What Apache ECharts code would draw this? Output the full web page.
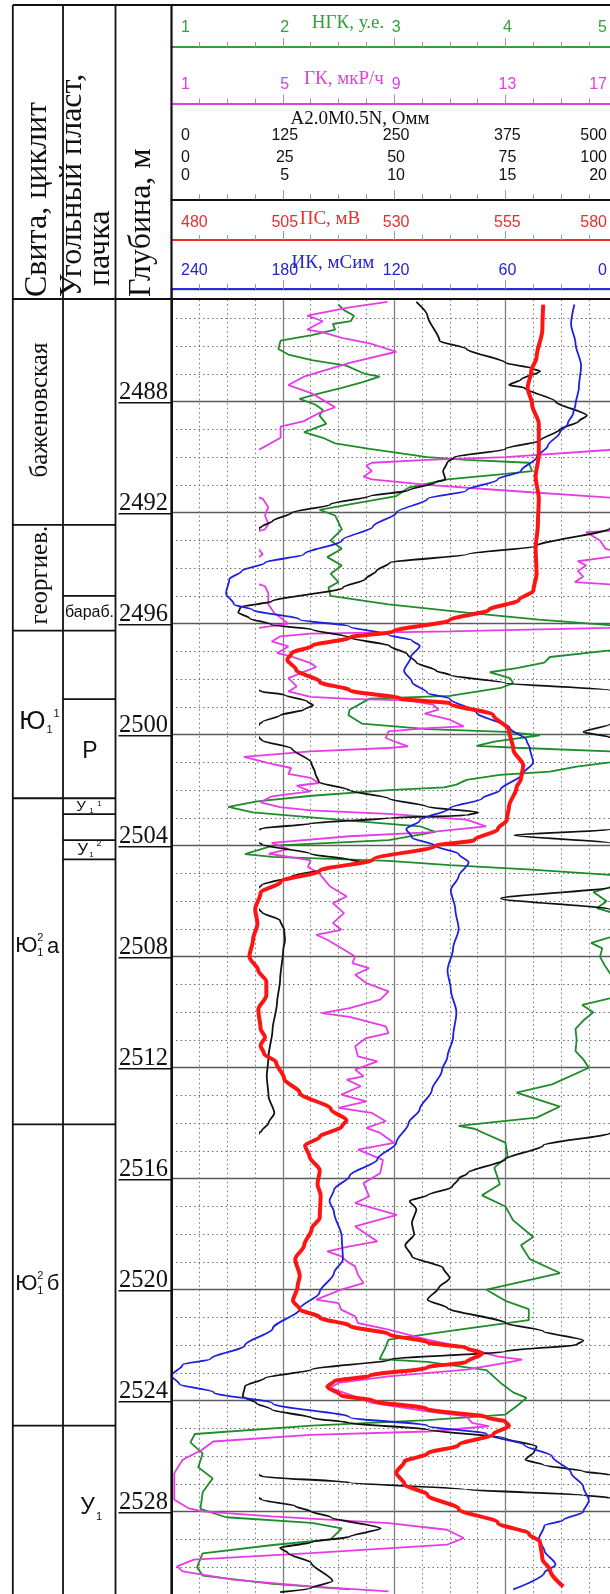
<!DOCTYPE html>
<html>
<head>
<meta charset="utf-8">
<script src="https://cdn.jsdelivr.net/npm/echarts@6/dist/echarts.min.js"></script>
<style>
  html, body { margin: 0; padding: 0; background: #fff; }
  #chart { width: 610px; height: 1594px; }
</style>
</head>
<body>
<div id="chart"></div>
<script>
// ---------- well log curves (depth in metres, values in curve units) ----------

// НГК, у.е.
const ngkDepth = [
  2484.5,2484.7,2484.9,2485.1,2485.2,2485.4,2485.6,2485.8,2486.1,2486.3,
  2486.5,2486.7,2487.0,2487.1,2487.3,2487.5,2487.7,2487.9,2488.1,2488.3,
  2488.5,2488.8,2489.0,2489.1,2489.3,2489.5,2489.7,2490.0,2490.1,2490.2,
  2490.5,2490.6,2490.8,2491.1,2491.4,2491.7,2491.9,2492.1,2492.6,2493.0,
  2493.3,2493.6,2493.9,2494.2,2494.5,2494.7,2495.0,2495.3,2495.6,2495.85,
  2496.05,2496.5,2496.96,2497.2,2497.4,2497.6,2497.75,2497.85,2497.96,2498.14,
  2498.3,2498.6,2498.7,2499.1,2499.3,2499.6,2499.8,2499.9,2500.02,2500.25,
  2500.4,2500.47,2500.6,2500.8,2501.0,2501.15,2501.33,2501.45,2501.63,2501.8,
  2501.9,2502.0,2502.2,2502.4,2502.6,2502.8,2503.1,2503.3,2503.5,2503.8,
  2504.0,2504.3,2504.4,2504.55,2504.7,2504.85,2505.05,2505.3,2505.5,2505.67,
  2506.0,2506.25,2506.4,2506.9,2507.3,2507.5,2507.7,2508.0,2508.3,2508.6,
  2509.0,2509.5,2509.74,2510.0,2510.3,2510.6,2511.0,2511.4,2511.7,2512.0,
  2512.6,2512.9,2513.4,2513.8,2514.1,2514.2,2514.7,2515.2,2515.6,2516.2,
  2516.6,2517.0,2517.5,2518.1,2518.4,2518.9,2519.4,2520.0,2520.4,2520.7,
  2521.1,2521.4,2521.8,2522.1,2522.5,2522.6,2522.9,2523.4,2523.7,2523.9,
  2524.2,2524.5,2524.7,2524.9,2525.2,2525.5,2525.9,2526.4,2526.8,2527.3,
  2527.9,2528.2,2528.4,2528.6,2529.0,2529.2,2529.5,2530.0,2530.3,2530.6,
  2530.8
];
const ngkValue = [
  2.50,2.55,2.64,2.61,2.45,2.47,2.26,1.98,1.96,2.05,
  2.26,2.57,2.74,2.87,2.71,2.53,2.33,2.15,2.29,2.36,
  2.33,2.39,2.26,2.19,2.36,2.47,2.78,3.30,3.65,4.21,
  4.24,4.00,3.48,3.13,3.02,2.60,2.33,2.47,2.53,2.43,
  2.53,2.40,2.53,2.43,2.50,2.41,2.43,2.95,3.65,4.30,
  4.94,5.30,4.94,4.40,4.35,4.10,3.86,3.95,4.04,4.07,
  3.97,3.50,2.78,2.60,2.59,2.71,3.30,4.00,4.31,3.90,
  3.74,4.10,4.94,5.30,4.94,4.64,4.40,3.95,3.65,3.56,
  3.45,2.95,2.26,1.77,1.51,1.73,2.60,3.23,3.37,2.95,
  1.91,1.66,1.91,2.95,3.50,4.20,4.94,5.30,4.94,4.79,
  4.91,4.82,4.95,5.30,4.94,4.77,4.87,4.85,4.89,4.94,
  5.20,4.94,4.69,4.79,4.70,4.63,4.64,4.63,4.70,4.75,
  4.42,4.10,4.49,4.28,3.58,3.72,4.00,4.02,3.90,3.95,
  3.79,4.00,4.07,4.25,4.14,4.22,4.49,3.83,4.00,4.21,
  4.21,3.65,2.95,2.92,2.87,3.30,3.83,3.97,4.07,4.19,
  4.10,4.00,3.30,2.26,1.21,1.17,1.28,1.24,1.37,1.28,
  1.26,1.49,2.26,2.53,2.43,1.91,1.28,1.23,1.28,1.91,
  2.60
];

// ГК, мкР/ч (values above 17 continue on the 17–81 overflow scale)
const gkDepth = [
  2484.4,2484.6,2484.9,2485.1,2485.4,2485.5,2485.7,2485.9,2486.2,2486.6,
  2487.1,2487.4,2487.7,2488.2,2488.4,2488.7,2488.9,2489.3,2489.7,2489.74,
  2490.0,2490.1,2490.2,2490.3,2490.5,2490.7,2490.8,2491.0,2491.2,2491.5,
  2491.8,2492.1,2492.4,2492.6,2492.7,2493.0,2493.3,2493.5,2493.75,2493.9,
  2494.1,2494.3,2494.5,2494.65,2494.9,2495.3,2495.6,2496.0,2496.15,2496.28,
  2496.36,2496.46,2496.64,2496.82,2497.06,2497.18,2497.42,2497.56,2497.72,2497.96,
  2498.26,2498.44,2498.64,2498.71,2498.76,2498.92,2499.10,2499.24,2499.46,2499.70,
  2499.76,2499.88,2500.12,2500.28,2500.42,2500.48,2500.60,2500.80,2501.05,2501.20,
  2501.41,2501.56,2501.74,2501.84,2502.04,2502.22,2502.44,2502.61,2502.73,2502.85,
  2503.06,2503.30,2503.52,2503.66,2503.90,2504.12,2504.29,2504.53,2504.77,2504.99,
  2505.47,2505.83,2506.07,2506.43,2506.79,2507.03,2507.21,2507.39,2507.69,2507.99,
  2508.23,2508.41,2508.65,2508.95,2509.25,2509.55,2509.85,2510.03,2510.17,2510.51,
  2510.75,2510.93,2511.23,2511.59,2511.77,2512.07,2512.31,2512.43,2512.67,2512.97,
  2513.21,2513.45,2513.63,2513.93,2514.17,2514.35,2514.71,2514.95,2515.32,2515.80,
  2516.16,2516.64,2516.88,2517.30,2517.72,2518.26,2518.44,2518.62,2518.80,2518.98,
  2519.16,2519.46,2519.76,2520.00,2520.36,2520.48,2520.72,2520.96,2521.20,2521.44,
  2521.80,2522.10,2522.40,2522.52,2522.64,2522.88,2523.12,2523.36,2523.54,2523.78,
  2524.08,2524.38,2524.56,2524.80,2524.92,2525.11,2525.23,2525.47,2525.77,2526.13,
  2526.61,2527.09,2527.57,2527.87,2527.99,2528.17,2528.41,2528.65,2528.95,2529.19,
  2529.49,2529.73,2529.97,2530.15,2530.45,2530.69,2530.87
];
const gkValue = [
  39.8,33.0,25.4,28.2,25.4,28.2,31.6,36.6,41.4,33.0,
  24.8,22.0,26.2,30.4,27.6,24.8,20.6,20.6,17.0,16.7,
  13.0,10.2,8.2,8.0,8.2,7.9,8.2,10.2,13.0,17.4,
  18.4,17.8,18.4,17.8,15.9,16.4,16.6,17.4,15.6,15.9,
  15.6,15.8,15.5,17.8,18.4,18.4,19.4,22.0,16.7,11.0,
  6.0,4.9,4.6,5.2,4.8,5.3,6.0,6.2,5.8,5.2,
  5.5,5.2,6.0,7.4,9.5,10.4,10.6,10.1,11.0,11.5,
  10.2,8.8,8.7,9.1,9.5,8.8,6.0,3.6,4.6,5.3,
  5.2,6.0,6.3,5.5,6.0,4.6,4.2,4.9,6.0,8.8,
  11.6,12.3,10.2,7.4,4.6,5.2,4.5,6.0,5.9,6.3,
  6.7,7.3,6.8,7.2,6.8,7.1,6.2,6.6,7.1,7.6,
  7.5,8.1,7.6,8.0,8.8,8.5,7.4,6.4,7.4,8.7,
  8.8,8.0,7.6,7.7,8.4,7.6,7.9,7.3,7.8,7.1,
  8.0,7.0,8.2,8.7,8.0,8.5,9.0,7.7,8.6,8.5,
  7.9,8.1,7.6,9.1,7.6,8.4,7.4,6.6,7.1,7.3,
  7.6,7.7,7.9,7.1,6.2,7.0,7.1,7.6,7.7,8.8,
  10.2,11.6,12.7,13.6,13.0,11.6,8.8,7.0,6.7,7.4,
  8.2,10.2,11.6,11.8,12.4,10.2,6.0,2.5,2.1,1.4,
  1.1,1.1,1.1,1.6,2.1,4.6,8.8,10.9,11.5,10.9,
  6.0,1.8,1.2,1.4,3.2,6.0,8.8
];

// A2.0M0.5N, Омм (0–20 main scale, overflow to 20–100 and 100–500)
const resDepth = [
  2484.4,2484.9,2485.8,2486.1,2486.6,2486.8,2486.9,2487.2,2487.4,2487.5,
  2488.0,2488.5,2488.7,2489.0,2489.4,2489.7,2490.0,2490.2,2490.5,2490.8,
  2490.9,2491.2,2491.4,2491.7,2492.0,2492.3,2492.5,2492.56,2493.2,2493.5,
  2493.8,2494.1,2494.4,2494.7,2495.2,2495.4,2495.6,2495.8,2496.04,2496.2,
  2496.5,2496.8,2497.1,2497.4,2497.7,2497.85,2498.14,2498.4,2498.45,2498.56,
  2498.8,2498.94,2499.1,2499.3,2499.55,2499.62,2499.9,2500.1,2500.2,2500.5,
  2501.0,2501.4,2501.7,2502.0,2502.3,2502.6,2502.8,2502.9,2503.0,2503.2,
  2503.38,2503.42,2503.62,2503.9,2503.95,2504.3,2504.5,2504.6,2504.8,2505.1,
  2505.42,2505.5,2505.9,2506.3,2506.4,2506.7,2507.03,2507.4,2507.75,2508.83,
  2509.67,2510.63,2511.59,2512.31,2513.03,2513.63,2513.99,2514.29,2514.35,2514.8,
  2515.3,2515.8,2516.0,2516.3,2516.6,2516.8,2517.1,2517.6,2518.0,2518.4,
  2518.8,2519.22,2519.58,2519.94,2520.36,2520.66,2521.2,2521.5,2521.83,2521.98,
  2522.22,2522.52,2522.88,2523.18,2523.48,2523.84,2524.08,2524.32,2524.62,2524.8,
  2525.04,2525.35,2525.65,2525.83,2526.13,2526.31,2526.55,2526.67,2526.73,2526.95,
  2527.2,2527.4,2527.5,2527.56,2527.8,2528.0,2528.2,2528.6,2528.9,2529.1,
  2529.3,2529.5,2529.85,2530.5,2530.75,2530.9
];
const resValue = [
  55.0,57.5,60.2,66.3,75.0,81.0,82.8,78.5,75.8,79.3,
  86.3,93.3,91.5,87.2,82.8,75.0,63.5,61.9,61.0,61.5,
  59.3,53.2,44.5,35.7,27.0,22.7,20.3,19.7,16.4,13.3,
  9.8,9.2,8.7,7.7,4.5,3.1,3.0,3.5,4.5,6.3,
  8.0,9.8,10.6,11.0,11.9,12.5,15.0,19.7,20.3,25.3,
  30.5,31.8,29.7,24.4,20.3,19.7,18.5,19.7,20.3,27.0,
  31.4,32.3,33.1,40.0,48.8,57.5,68.9,66.3,48.8,31.4,
  20.3,19.7,15.4,19.7,20.3,31.4,40.0,42.8,35.7,27.0,
  20.3,19.7,14.8,19.7,20.3,24.4,25.3,25.5,25.1,24.4,
  23.7,22.7,21.8,21.4,21.8,23.1,21.8,20.2,19.7,16.7,
  15.0,13.3,12.9,12.6,11.5,10.7,11.0,10.8,10.9,10.5,
  10.8,12.2,12.5,12.0,11.5,12.4,15.0,16.7,18.5,18.2,
  15.0,9.8,6.3,4.2,3.3,3.2,3.8,4.5,6.3,8.0,
  11.5,15.0,16.4,16.3,15.9,16.7,18.5,19.7,20.3,40.0,
  66.3,92.5,98.3,101.0,139.0,157.0,179.0,235.0,200.0,157.0,
  122.0,131.0,157.0,181.0,157.0,122.0
];

// ПС, мВ
const psDepth = [
  2484.5,2485.4,2486.4,2486.9,2487.5,2488.1,2488.8,2489.9,2490.7,2491.5,
  2492.4,2493.3,2494.2,2494.8,2495.15,2495.5,2495.87,2496.28,2496.5,2496.8,
  2497.06,2497.3,2497.66,2498.1,2498.4,2498.7,2498.87,2499.3,2499.83,2500.55,
  2501.1,2501.6,2501.9,2502.6,2503.07,2503.4,2503.8,2504.0,2504.5,2504.9,
  2505.3,2505.7,2506.3,2506.8,2507.4,2508.0,2508.5,2508.9,2509.4,2509.9,
  2510.6,2510.9,2511.2,2511.5,2511.8,2512.4,2512.9,2513.5,2513.9,2514.1,
  2514.5,2514.8,2515.2,2515.7,2516.2,2516.6,2517.4,2517.8,2518.4,2518.9,
  2519.5,2519.9,2520.4,2520.7,2521.0,2521.3,2521.6,2521.9,2522.1,2522.3,
  2522.6,2522.8,2523.1,2523.3,2523.5,2523.8,2524.0,2524.3,2524.6,2524.75,
  2524.9,2525.2,2525.6,2525.9,2526.2,2526.6,2527.0,2527.4,2527.9,2528.4,
  2528.8,2529.1,2529.7,2530.1,2530.7
];
const psValue = [
  563.5,563.3,562.0,560.8,560.0,561.0,562.5,562.5,561.8,562.5,
  562.3,561.8,562.0,561.3,558.0,551.3,542.5,529.8,520.0,511.5,
  507.0,506.0,508.0,513.3,520.0,531.5,542.5,552.3,555.8,556.8,
  559.0,558.5,557.5,555.8,555.3,553.3,548.0,539.3,525.3,513.3,
  504.5,500.0,498.8,499.3,498.3,497.5,499.5,501.3,501.3,499.5,
  500.0,501.0,500.0,500.8,503.5,505.3,508.8,515.8,519.3,518.3,
  513.3,510.0,511.0,513.3,512.8,513.5,513.3,511.5,509.8,507.8,
  508.8,508.3,507.3,508.8,513.3,520.0,528.8,537.5,546.3,549.8,
  546.3,537.5,524.5,516.5,515.0,518.0,525.3,537.5,550.8,555.0,
  555.8,552.3,544.5,537.5,532.3,530.5,532.3,537.5,544.5,553.3,
  560.3,562.8,563.3,565.0,568.0
];

// ИК, мСим
const ikDepth = [
  2484.5,2485.2,2485.9,2486.7,2487.5,2488.1,2488.4,2488.8,2489.1,2489.6,
  2490.0,2490.5,2490.8,2491.2,2491.5,2492.0,2492.5,2493.0,2493.5,2493.8,
  2494.1,2494.4,2494.9,2495.3,2495.5,2495.85,2496.1,2496.4,2496.6,2496.8,
  2497.2,2497.7,2498.1,2498.5,2498.7,2499.2,2499.76,2500.2,2500.5,2501.0,
  2501.4,2502.0,2502.3,2502.65,2503.1,2503.4,2503.7,2504.0,2504.3,2504.6,
  2505.1,2505.6,2506.3,2507.0,2507.7,2508.5,2509.2,2510.0,2510.9,2511.6,
  2512.1,2512.8,2513.5,2514.0,2514.7,2515.3,2515.9,2516.4,2516.8,2517.2,
  2518.1,2518.9,2519.4,2520.1,2520.7,2521.4,2522.0,2522.5,2522.7,2523.1,
  2523.4,2523.7,2524.1,2524.6,2524.9,2525.2,2525.6,2526.0,2526.6,2527.1,
  2527.6,2528.0,2528.3,2528.5,2529.0,2529.4,2529.9,2530.2,2530.8
];
const ikValue = [
  22.8,24.6,22.2,19.2,20.4,22.2,23.4,26.4,30.6,37.2,
  43.2,51.6,64.2,81.0,102.0,118.8,131.4,148.2,168.6,189.6,
  202.2,208.8,210.6,206.4,196.2,171.0,144.0,123.0,110.4,106.2,
  111.0,114.6,110.4,102.0,90.0,75.6,57.6,48.6,46.8,45.0,
  50.4,63.0,72.6,90.0,106.2,113.4,110.4,97.8,85.2,79.8,
  85.2,89.4,87.0,85.2,88.2,91.2,89.4,86.4,88.2,91.2,
  94.2,99.6,106.2,112.2,118.8,129.0,144.0,152.4,154.8,152.4,
  148.2,147.6,152.4,160.2,171.0,185.4,200.4,219.0,234.0,240.0,
  235.8,217.2,185.4,144.0,102.0,70.2,49.8,34.8,24.6,18.0,
  15.0,18.0,28.8,39.0,42.0,39.0,33.0,39.0,55.8
];

// ---------- header scale labels ----------
const ngkTicks = [1, 2, 3, 4, 5];
const gkTicks = [1, 5, 9, 13, 17];
const resTicks500 = [0, 125, 250, 375, 500];
const resTicks100 = [0, 25, 50, 75, 100];
const resTicks20 = [0, 5, 10, 15, 20];
const psTicks = [480, 505, 530, 555, 580];
const ikTicks = [240, 180, 120, 60, 0];
const depthLabels = [2488, 2492, 2496, 2500, 2504, 2508, 2512, 2516, 2520, 2524, 2528];

// ---------- stratigraphy columns (depth intervals) ----------
const suiteBounds = [2492.44, 2496.25, 2502.29, 2514.04, 2524.90];
const packBounds = [2495.0, 2498.72, 2502.86, 2503.80, 2504.49];

// ---------- layout ----------
const PLOT_LEFT = 171.5;
const DIV = 111.3;                 // one scale division, px
const PX_PER_M = 27.75;
const DEPTH_MIN = 2484, DEPTH_MAX = 2532;
const GRID_TOP = 401.7 - (2488 - DEPTH_MIN) * PX_PER_M;
const GRID_H = (DEPTH_MAX - DEPTH_MIN) * PX_PER_M;
const GRID_W = 4 * DIV;
const WRAP_LEFT = PLOT_LEFT + 0.8 * DIV;   // overflow scales start at 0.8 division

const C = {
  ngk: '#1f8c2b', ngkText: '#35a040',
  gk: '#e63ce6', gkText: '#e040e0',
  res: '#111111',
  ps: '#ff1414', psText: '#e23030',
  ik: '#1f1fe0', ikText: '#2424d0'
};
const SANS = '"Liberation Sans", Arial, sans-serif';
const SERIF = '"Liberation Serif", "Times New Roman", serif';

function headerAxis(min, max, interval, color, lineY, inverse) {
  return {
    type: 'value', gridIndex: 0, min, max, interval, inverse: !!inverse,
    position: 'top', offset: GRID_TOP - lineY,
    axisLine: { show: true, onZero: false, lineStyle: { color, width: 2 } },
    axisTick: { show: true, inside: false, length: 9, lineStyle: { color: '#9a9a9a', width: 1 } },
    minorTick: { show: true, splitNumber: 4, length: 5, lineStyle: { color: '#9a9a9a', width: 1 } },
    axisLabel: { show: false },
    splitLine: { show: false }
  };
}
function hiddenAxis(min, max) {
  return { type: 'value', gridIndex: 1, min, max, show: false, splitLine: { show: false } };
}
function pairs(depth, vals) { return depth.map((d, i) => [vals[i], d]); }
function curve(name, xi, yi, data, color, width, smooth) {
  return {
    type: 'line', name, xAxisIndex: xi, yAxisIndex: yi, data,
    symbol: 'none', clip: true, silent: true, smooth: smooth || false,
    smoothMonotone: smooth ? 'y' : undefined,
    lineStyle: { color, width }, z: 3
  };
}

const ngkAxis = headerAxis(1, 5, 1, '#3a9d3f', 47);
ngkAxis.splitLine = { show: true, lineStyle: { color: '#7d7d7d', width: 1.3 } };
ngkAxis.minorSplitLine = { show: true, lineStyle: { color: '#7a7a7a', width: 1, type: [1.5, 3] } };

const option = {
  animation: false,
  backgroundColor: '#ffffff',
  grid: [
    { left: PLOT_LEFT, top: GRID_TOP, width: GRID_W, height: GRID_H, containLabel: false, outerBoundsMode: 'none' },
    { left: WRAP_LEFT, top: GRID_TOP, width: GRID_W - 0.8 * DIV, height: GRID_H, containLabel: false, outerBoundsMode: 'none' }
  ],
  xAxis: [
    ngkAxis,                                             // 0 НГК
    headerAxis(1, 17, 4, '#e040e0', 103.5),              // 1 ГК
    headerAxis(0, 20, 5, '#111', 199.3),                 // 2 A2.0M0.5N (0–20)
    headerAxis(480, 580, 25, '#e83030', 240),            // 3 ПС
    headerAxis(0, 240, 60, '#2a2ae0', 289, true),        // 4 ИК
    hiddenAxis(17, 81),                                  // 5 ГК overflow
    hiddenAxis(20, 100),                                 // 6 A2.0M0.5N 20–100
    hiddenAxis(100, 500)                                 // 7 A2.0M0.5N 100–500
  ],
  yAxis: [
    {
      type: 'value', gridIndex: 0, min: DEPTH_MIN, max: DEPTH_MAX, interval: 4, inverse: true,
      axisLine: { show: true, onZero: false, lineStyle: { color: '#111', width: 2 } },
      axisTick: { show: false }, axisLabel: { show: false },
      minorTick: { show: false, splitNumber: 4 },
      splitLine: { show: true, lineStyle: { color: '#5a5a5a', width: 1.4 } },
      minorSplitLine: { show: true, lineStyle: { color: '#6e6e6e', width: 1, type: [1.5, 3] } }
    },
    { type: 'value', gridIndex: 1, min: DEPTH_MIN, max: DEPTH_MAX, inverse: true, show: false, splitLine: { show: false } }
  ],
  series: [
    curve('НГК', 0, 0, pairs(ngkDepth, ngkValue), C.ngk, 1.8),
    curve('ГК', 1, 0, pairs(gkDepth, gkValue), C.gk, 1.8),
    curve('ГК ×5', 5, 1, pairs(gkDepth, gkValue), C.gk, 1.8),
    curve('A2.0M0.5N', 2, 0, pairs(resDepth, resValue), C.res, 1.8, 0.25),
    curve('A2.0M0.5N ×5', 6, 1, pairs(resDepth, resValue), C.res, 1.8, 0.25),
    curve('A2.0M0.5N ×25', 7, 1, pairs(resDepth, resValue), C.res, 1.8, 0.25),
    curve('ИК', 4, 0, pairs(ikDepth, ikValue), C.ik, 1.8, 0.3),
    curve('ПС', 3, 0, pairs(psDepth, psValue), C.ps, 4, 0.3)
  ]
};

const chart = echarts.init(document.getElementById('chart'), null, { renderer: 'canvas' });
chart.setOption(option);

// ---------- annotations: header labels, table, column texts ----------
const xPx = (axis, v) => chart.convertToPixel({ xAxisIndex: axis }, v);
const yPx = d => chart.convertToPixel({ yAxisIndex: 0 }, d);

function text(x, y, s, font, fill, align, rot, valign) {
  return {
    type: 'text', x, y, rotation: rot || 0, z: 120, silent: true,
    style: {
      text: s, font, fill,
      align: align || 'center', verticalAlign: valign || 'middle',
      textAlign: align || 'center', textVerticalAlign: valign || 'middle'
    }
  };
}
function line(x1, y1, x2, y2, w, color) {
  return { type: 'line', z: 110, silent: true, shape: { x1, y1, x2, y2 }, style: { stroke: color || '#111', lineWidth: w || 1.8 } };
}

const els = [];
const RIGHT = 610;
const BOTTOM = 1594;
const COLS = [12.8, 63, 115.5];
const HEAD_TOP = 5, HEAD_BOTTOM = 299;

// white gap between the header and the plot
els.push({ type: 'rect', z: 105, silent: true, shape: { x: PLOT_LEFT + 1, y: 290.3, width: RIGHT - PLOT_LEFT, height: HEAD_BOTTOM - 290.3 }, style: { fill: '#fff' } });

// table frame
els.push(line(COLS[0], HEAD_TOP, RIGHT, HEAD_TOP, 1.8));
COLS.forEach(x => els.push(line(x, HEAD_TOP, x, BOTTOM, 1.8)));
els.push(line(PLOT_LEFT, HEAD_TOP, PLOT_LEFT, BOTTOM, 2.2));
els.push(line(COLS[0], HEAD_BOTTOM, RIGHT, HEAD_BOTTOM, 1.8));
suiteBounds.forEach(d => { const y = yPx(d); els.push(line(COLS[0], y, COLS[2], y, 1.8)); });
packBounds.forEach(d => { const y = yPx(d); els.push(line(COLS[1], y, COLS[2], y, 1.8)); });

// header scale labels
const labelFont = '16px ' + SANS;
const headerRows = [
  { ticks: ngkTicks, axis: 0, k: 1, y: 28, fill: C.ngkText },
  { ticks: gkTicks, axis: 1, k: 1, y: 84.5, fill: C.gkText },
  { ticks: resTicks500, axis: 2, k: 25, y: 135.5, fill: '#111' },
  { ticks: resTicks100, axis: 2, k: 5, y: 157.5, fill: '#111' },
  { ticks: resTicks20, axis: 2, k: 1, y: 175.5, fill: '#111' },
  { ticks: psTicks, axis: 3, k: 1, y: 222.5, fill: C.psText },
  { ticks: ikTicks, axis: 4, k: 1, y: 270.5, fill: C.ikText }
];
headerRows.forEach(row => {
  row.ticks.forEach((t, i) => {
    const px = xPx(row.axis, t / row.k);
    let x = px + 2, align = 'center';
    if (i === 0) { x = px + 9.5; align = 'left'; }
    else if (i === row.ticks.length - 1) { x = 607; align = 'right'; }
    els.push(text(x, row.y, String(t), labelFont, row.fill, align));
  });
});

// header scale titles
const titleFont = '19px ' + SERIF;
[
  ['НГК, у.е.', 348, 23, C.ngkText],
  ['ГК, мкР/ч', 344, 79.5, C.gkText],
  ['A2.0M0.5N, Омм', 360, 119, '#111'],
  ['ПС, мВ', 330, 219.5, C.psText],
  ['ИК, мСим', 333, 263, C.ikText]
].forEach(([s, x, y, c]) => els.push(text(x, y, s, titleFont, c, 'center')));

// column headers (rotated)
const headFont = '32px ' + SERIF;
const R90 = Math.PI / 2;
els.push(text(38, 297, 'Свита, циклит', headFont, '#111', 'left', R90));
els.push(text(73, 297, 'Угольный пласт,', headFont, '#111', 'left', R90));
els.push(text(101, 286, 'пачка', headFont, '#111', 'left', R90));
els.push(text(142, 297, 'Глубина, м', headFont, '#111', 'left', R90));

// depth labels with underline
depthLabels.forEach(d => {
  const y = yPx(d);
  els.push(text(168, y - 9.1, String(d), '24.5px ' + SERIF, '#111', 'right'));
  els.push(line(118.5, y + 1, PLOT_LEFT, y + 1, 1.5));
});

// suite column
const suiteFont = '25px ' + SERIF;
els.push(text(40, yPx(2488.3), 'баженовская', suiteFont, '#111', 'center', R90));
els.push(text(40, yPx(2494.25), 'георгиев.', suiteFont, '#111', 'center', R90));

const big = '26px ' + SANS, mid = '22px ' + SANS, small = '11px ' + SANS;
// Ю1 with sub/superscripts
let y = yPx(2499.55);
els.push(text(32.5, y, 'Ю', big, '#111', 'center'));
els.push(text(56.5, y - 8, '1', small, '#111', 'center'));
els.push(text(49.5, y + 8, '1', small, '#111', 'center'));
y = yPx(2507.62);
els.push(text(26.3, y, 'Ю', mid, '#111', 'center'));
els.push(text(40.2, y - 8.5, '2', small, '#111', 'center'));
els.push(text(40.2, y + 6.5, '1', small, '#111', 'center'));
els.push(text(53, y + 0.5, 'а', mid, '#111', 'center'));
y = yPx(2519.8);
els.push(text(26.3, y, 'Ю', mid, '#111', 'center'));
els.push(text(40.2, y - 8.5, '2', small, '#111', 'center'));
els.push(text(40.2, y + 6.5, '1', small, '#111', 'center'));
els.push(text(53, y - 0.5, 'б', mid, '#111', 'center'));

// pack column
els.push(text(89.5, yPx(2495.6), 'бараб.', '16px ' + SANS, '#111', 'center'));
els.push(text(90, yPx(2500.62), 'Р', '23px ' + SANS, '#111', 'center'));
y = yPx(2502.6);
els.push(text(81, y, 'У', '15px ' + SANS, '#111', 'center'));
els.push(text(91.5, y + 4, '1', '8px ' + SANS, '#111', 'center'));
els.push(text(99.5, y - 3.5, '1', '8px ' + SANS, '#111', 'center'));
y = yPx(2504.15);
els.push(text(82.7, y, 'У', '17px ' + SANS, '#111', 'center'));
els.push(text(91.5, y + 5, '1', '8px ' + SANS, '#111', 'center'));
els.push(text(99, y - 6, '2', '9px ' + SANS, '#111', 'center'));
y = yPx(2527.87);
els.push(text(87.5, y, 'У', '23px ' + SANS, '#111', 'center'));
els.push(text(99, y + 9, '1', '11px ' + SANS, '#111', 'center'));

chart.setOption({ graphic: { elements: els } });
</script>
</body>
</html>
